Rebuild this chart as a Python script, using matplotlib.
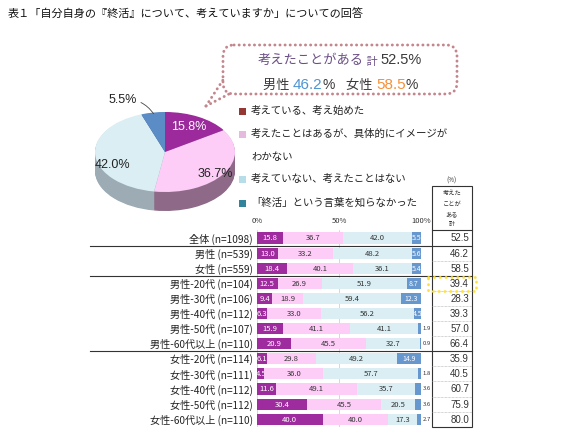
import matplotlib
matplotlib.use('Agg')
import matplotlib.pyplot as plt
from matplotlib.patches import FancyBboxPatch, Rectangle
from matplotlib.transforms import Bbox, TransformedBbox
import numpy as np

plt.rcParams['font.family'] = ['Noto Sans CJK JP', 'DejaVu Sans']

# ---------------- data ----------------
title = "表１「自分自身の『終活』について、考えていますか」についての回答"
pie_labels = ["考えている、考え始めた",
              "考えたことはあるが、具体的にイメージが\nわかない",
              "考えていない、考えたことはない",
              "「終活」という言葉を知らなかった"]
pie_values = [15.8, 36.7, 42.0, 5.5]
callout_total = "52.5%"
callout_male = "46.2"
callout_female = "58.5"

rows = ["全体 (n=1098)", "男性 (n=539)", "女性 (n=559)",
        "男性-20代 (n=104)", "男性-30代 (n=106)", "男性-40代 (n=112)",
        "男性-50代 (n=107)", "男性-60代以上 (n=110)",
        "女性-20代 (n=114)", "女性-30代 (n=111)", "女性-40代 (n=112)",
        "女性-50代 (n=112)", "女性-60代以上 (n=110)"]
seg1 = [15.8, 13.0, 18.4, 12.5, 9.4, 6.3, 15.9, 20.9, 6.1, 4.5, 11.6, 30.4, 40.0]
seg2 = [36.7, 33.2, 40.1, 26.9, 18.9, 33.0, 41.1, 45.5, 29.8, 36.0, 49.1, 45.5, 40.0]
seg3 = [42.0, 48.2, 36.1, 51.9, 59.4, 56.2, 41.1, 32.7, 49.2, 57.7, 35.7, 20.5, 17.3]
seg4 = [5.5, 5.6, 5.4, 8.7, 12.3, 4.5, 1.9, 0.9, 14.9, 1.8, 3.6, 3.6, 2.7]
totals = [52.5, 46.2, 58.5, 39.4, 28.3, 39.3, 57.0, 66.4, 35.9, 40.5, 60.7, 75.9, 80.0]
xtick_vals = [0, 50, 100]
xtick_labels = ["0%", "50%", "100%"]
table_header = ["考えた", "ことが", "ある", "計"]

# ---------------- styles ----------------
W, H = 567, 445
pie_colors = ["#9C2A9C", "#FDCDF8", "#DAEEF3", "#5B8CC6"]
side_colors = ["#5E1A5E", "#8E6A88", "#9CABB4", "#365A85"]
legend_colors = ["#953735", "#E6B9DE", "#B7DDE8", "#31849B"]
bar_colors = ["#9E2C9E", "#FDCDF8", "#DAEEF3", "#6697CE"]
txt_colors = ["white", "#333333", "#333333", "white"]
dark = "#333333"

fig = plt.figure(figsize=(W / 100, H / 100), dpi=100)

ov = fig.add_axes([0, 0, 1, 1])
ov.set_xlim(0, W)
ov.set_ylim(H, 0)
ov.axis('off')

# title
ov.text(8, 14, title, fontsize=8.0, va='center', ha='left', color='#111111')

# ---------------- callout ----------------
dot = dict(color="#C4868D", lw=2.1, linestyle=(0, (0.05, 1.7)))
box = FancyBboxPatch((223, 45), 234, 49, boxstyle="round,pad=0,rounding_size=11",
                     fill=False, edgecolor=dot['color'], lw=dot['lw'],
                     linestyle=dot['linestyle'], capstyle='round')
ov.add_patch(box)
ov.plot([206, 223], [106, 80], solid_capstyle='round', dash_capstyle='round', **dot)
ov.plot([206, 229], [106, 94], solid_capstyle='round', dash_capstyle='round', **dot)

def chain(x, y, pieces):
    prev = ov.text(x, y, pieces[0][0], color=pieces[0][1], fontsize=pieces[0][2],
                   family=pieces[0][3], va='baseline', ha='left')
    for s, c, fs, fam in pieces[1:]:
        prev = ov.annotate(s, xy=(1, 0), xycoords=prev, va='bottom', ha='left',
                           color=c, fontsize=fs, family=fam)
    return prev

jp = ['Noto Sans CJK JP', 'DejaVu Sans']
num = ['Liberation Sans', 'DejaVu Sans']
purple_t = "#6B4F86"
chain(258, 64, [("考えたことがある", purple_t, 9.5, jp),
                (" 計 ", purple_t, 8, jp),
                (callout_total, "#3A3A3A", 10.5, num)])
chain(263, 89, [("男性 ", "#3A3A3A", 9.5, jp),
                (callout_male, "#4F94D4", 11, num),
                ("%", "#3A3A3A", 10, num),
                ("    女性 ", "#3A3A3A", 9.5, jp),
                (callout_female, "#F5903A", 11, num),
                ("%", "#3A3A3A", 10, num)])

# ---------------- pie ----------------
px0, px1, py0, ptop_h, pthick = 95, 235, 112, 80, 19
pax = fig.add_axes([px0 / W, 1 - (py0 + ptop_h + pthick) / H,
                    (px1 - px0) / W, (ptop_h + pthick) / H])
t = pthick / (ptop_h / 2)
for off in np.linspace(-t, 0, 26)[:-1]:
    pax.pie(pie_values, colors=side_colors, startangle=90, counterclock=False,
            center=(0, off), radius=1, wedgeprops=dict(linewidth=0))
pax.pie(pie_values, colors=pie_colors, startangle=90, counterclock=False,
        center=(0, 0), radius=1, wedgeprops=dict(linewidth=0))
pax.set_aspect('auto')
pax.set_xlim(-1, 1)
pax.set_ylim(-1 - t, 1)
pax.axis('off')

cum = np.cumsum(pie_values)
mid = np.deg2rad(90 - 360 * (cum - np.array(pie_values) / 2) / 100)
pct = [f"{v:.1f}%" for v in pie_values]
lab_r = [0.7, 0.85, 0.76]
lab_dy = [0.0, -0.08, -0.25]
lab_c = ["white", "#222222", "#222222"]
for i in range(3):
    pax.text(lab_r[i] * np.cos(mid[i]), lab_r[i] * np.sin(mid[i]) + lab_dy[i], pct[i],
             ha='center', va='center', fontsize=9, color=lab_c[i], family=num)
pax.annotate(pct[3], xy=(0.95 * np.cos(mid[3]), 0.97 * np.sin(mid[3])),
             xytext=(-12, 10), textcoords='offset points', ha='right', va='center',
             fontsize=9, color="#222222", family=num,
             arrowprops=dict(arrowstyle='-', color='#444444', lw=0.6,
                             connectionstyle='arc3,rad=-0.3', shrinkA=1, shrinkB=0))

# ---------------- legend ----------------
leg_y = [111, 134, 157, 179, 203]
k = 0
for lab, col in zip(pie_labels, legend_colors):
    lines = lab.split("\n")
    ov.add_patch(Rectangle((239, leg_y[k] - 3.5), 7, 7, color=col, lw=0))
    for ln in lines:
        ov.text(251, leg_y[k], ln, fontsize=7.5, va='center', ha='left', color='#222222')
        k += 1

# ---------------- bar chart ----------------
bx0, bx1 = 257, 421
row0, rstep = 238, 15.1
n = len(rows)
top_px = row0 - rstep / 2
bot_px = row0 + rstep * (n - 1) + rstep / 2
bax = fig.add_axes([bx0 / W, 1 - bot_px / H, (bx1 - bx0) / W, (bot_px - top_px) / H])
bax.set_xlim(0, 100)
bax.set_ylim(n - 0.5, -0.5)
bax.patch.set_alpha(0)
for s in bax.spines.values():
    s.set_visible(False)

ppx = (bx1 - bx0) / 100.0
def xd(px):
    return (px - bx0) / ppx
def yd(py):
    return (py - row0) / rstep

bax.set_xticks(xtick_vals)
bax.set_xticklabels(xtick_labels, fontsize=5.5, color=dark)
bax.xaxis.tick_top()
bax.tick_params(axis='x', length=0, pad=4)
bax.set_yticks(range(n))
bax.set_yticklabels(rows, fontsize=7.3, color='#222222')
bax.tick_params(axis='y', length=0, pad=3)
bax.grid(axis='x', color='#C8C8C8', lw=0.5, zorder=0)
bax.set_axisbelow(True)

yy = np.arange(n)
segs = [seg1, seg2, seg3, seg4]
left = np.zeros(n)
bh = 0.74
for j, seg in enumerate(segs):
    seg = np.array(seg)
    bars = bax.barh(yy, seg, left=left, height=bh, color=bar_colors[j], lw=0, zorder=2)
    for i, (b, v) in enumerate(zip(bars, seg)):
        cx = left[i] + v / 2
        if j == 3 and v < 4:
            bax.text(100 + 1.2, i, f"{v:.1f}", fontsize=4.3, color=dark,
                     ha='left', va='center', clip_on=False)
        else:
            fs = 5.5 if j < 3 else 5.0
            tx = bax.text(cx, i + 0.03, f"{v:.1f}", fontsize=fs, color=txt_colors[j],
                          ha='center', va='center', zorder=3)
            bb = TransformedBbox(Bbox.from_extents(left[i], i - bh / 2, left[i] + v, i + bh / 2),
                                 bax.transData)
            tx.set_clip_box(bb)
            tx.set_clip_on(True)
    left = left + seg

# group separators
for yb in [0.5, 2.5, 7.5]:
    bax.plot([xd(90), xd(472)], [yb, yb], color='#333333', lw=0.8, clip_on=False, zorder=4)

# ---------------- right table ----------------
tx0, tx1 = xd(432), xd(472)
head_top = yd(186)
bax.add_patch(Rectangle((tx0, head_top), tx1 - tx0, (n - 0.5) - head_top, fill=False,
                        edgecolor='#333333', lw=0.8, clip_on=False, zorder=4))
bax.plot([tx0, tx1], [-0.5, -0.5], color='#333333', lw=0.8, clip_on=False, zorder=4)
for yb in np.arange(0.5, n - 1, 1.0):
    if yb in (0.5, 2.5, 7.5):
        continue
    bax.plot([tx0, tx1], [yb, yb], color='#AAAAAA', lw=0.5, linestyle=(0, (1, 1)),
             clip_on=False, zorder=4)
for i, v in enumerate(totals):
    bax.text(xd(469), i + 0.03, f"{v:.1f}", fontsize=7, color=dark, ha='right', va='center',
             clip_on=False, family=num)
hx = (tx0 + tx1) / 2
bax.text(hx, yd(181), "(%)", fontsize=4.5, color=dark, ha='center', va='center', clip_on=False)
for ln, py in zip(table_header, [193, 204, 214, 224]):
    bax.text(hx, yd(py), ln, fontsize=4.5, color=dark, ha='center', va='center', clip_on=False)

# highlight
highlight_row = 3
bax.add_patch(Rectangle((xd(428), highlight_row - 0.45), xd(476) - xd(428), 0.95,
                        fill=False, edgecolor='#FFE13A', lw=2.0, linestyle=(0, (0.1, 2.0)),
                        capstyle='round', clip_on=False, zorder=5))

fig.savefig("out.png", dpi=100)
